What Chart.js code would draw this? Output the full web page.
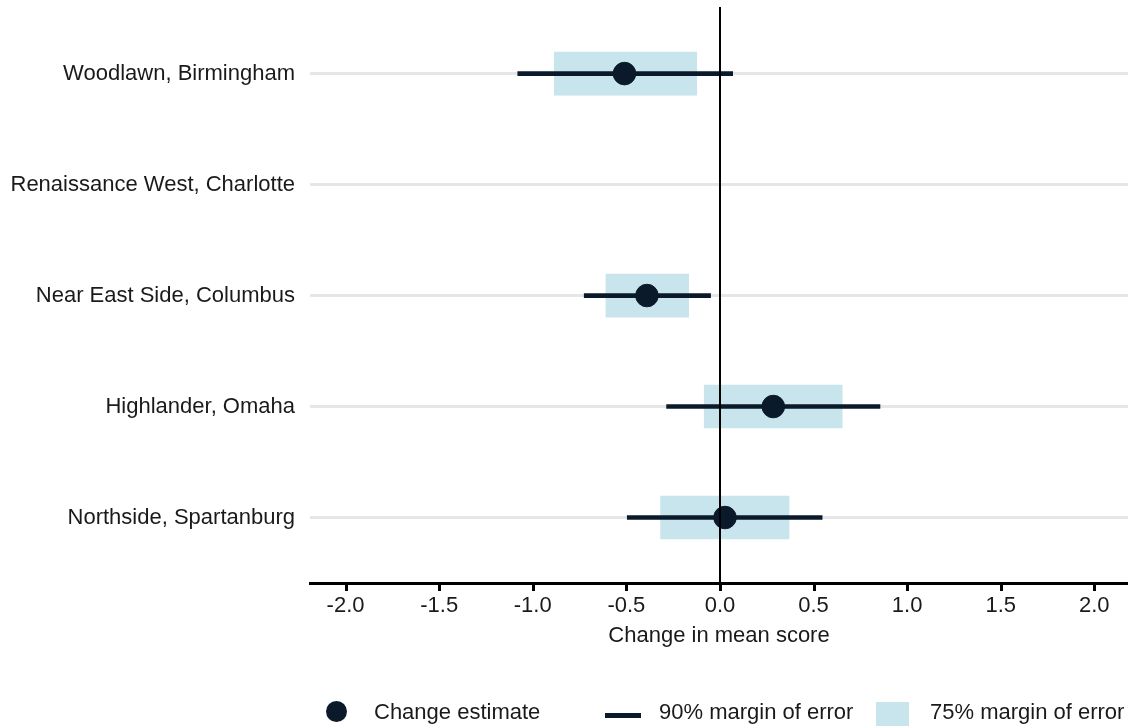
<!DOCTYPE html>
<html>
<head>
<meta charset="utf-8">
<script src="https://cdn.jsdelivr.net/npm/chart.js@4.4.1/dist/chart.umd.min.js"></script>
<style>
  html, body { margin: 0; padding: 0; background: #ffffff; }
  #wrap { position: relative; width: 1128px; height: 728px; }
  #chart { position: absolute; left: 0; top: 0; }
  .lg { position: absolute; font-family: "Liberation Sans", Arial, sans-serif; font-size: 22px; line-height: 24px; color: #1a1a1a; white-space: nowrap; }
  .sw { position: absolute; }
</style>
</head>
<body>
<div id="wrap">
  <canvas id="chart" width="1128" height="728"></canvas>
  <div class="sw" style="left:326px;top:701px;width:21px;height:21px;border-radius:50%;background:#0b1a2b;"></div>
  <div class="lg" style="left:374px;top:700px;">Change estimate</div>
  <div class="sw" style="left:605px;top:713px;width:36px;height:5px;background:#0b1a2b;"></div>
  <div class="lg" style="left:659px;top:700px;">90% margin of error</div>
  <div class="sw" style="left:876px;top:702px;width:33px;height:24px;background:#c8e4ec;"></div>
  <div class="lg" style="left:930px;top:700px;">75% margin of error</div>
</div>
<script>
// Neighbourhoods, top to bottom
const categories = [
  'Woodlawn, Birmingham',
  'Renaissance West, Charlotte',
  'Near East Side, Columbus',
  'Highlander, Omaha',
  'Northside, Spartanburg'
];
// Point estimate of the change in mean score (null = no estimate)
const estimate  = [-0.51, null, -0.39, 0.285, 0.027];
// 90% margin of error bounds
const moe90Low  = [-1.08, null, -0.725, -0.285, -0.495];
const moe90High = [0.068, null, -0.05, 0.855, 0.546];
// 75% margin of error bounds
const moe75Low  = [-0.885, null, -0.609, -0.084, -0.317];
const moe75High = [-0.124, null, -0.167, 0.653, 0.369];
// x axis tick values
const xTicks = [-2.0, -1.5, -1.0, -0.5, 0.0, 0.5, 1.0, 1.5, 2.0];

const NAVY = '#0b1a2b';
const LIGHT = '#c8e4ec';

function ranges(lo, hi) {
  const out = [];
  lo.forEach((v, i) => { if (v !== null && hi[i] !== null) out.push({ x: [v, hi[i]], y: i }); });
  return out;
}
function points(vals) {
  const out = [];
  vals.forEach((v, i) => { if (v !== null) out.push({ x: v, y: i }); });
  return out;
}

// Short black tick marks hanging below the x axis line
const xTickMarks = {
  id: 'xTickMarks',
  afterDraw(chart) {
    const s = chart.scales.x;
    const ctx = chart.ctx;
    const y0 = chart.chartArea.bottom;
    ctx.save();
    ctx.fillStyle = '#000000';
    xTicks.forEach(v => {
      const px = s.getPixelForValue(v);
      ctx.fillRect(Math.round(px) - 1, y0, 3, 8);
    });
    ctx.restore();
  }
};

const FONT = '"Liberation Sans", Arial, sans-serif';

new Chart(document.getElementById('chart'), {
  type: 'bar',
  data: {
    datasets: [
      {
        label: '75% margin of error',
        grouped: false,
        data: ranges(moe75Low, moe75High),
        backgroundColor: LIGHT,
        barThickness: 43,
        borderWidth: 0,
        order: 3
      },
      {
        label: '90% margin of error',
        grouped: false,
        data: ranges(moe90Low, moe90High),
        backgroundColor: NAVY,
        barThickness: 4,
        borderWidth: 0,
        order: 2
      },
      {
        type: 'scatter',
        label: 'Change estimate',
        data: points(estimate),
        backgroundColor: NAVY,
        borderColor: NAVY,
        pointRadius: 11.3,
        pointHoverRadius: 11.3,
        order: 1
      }
    ]
  },
  plugins: [xTickMarks],
  options: {
    indexAxis: 'y',
    responsive: false,
    animation: false,
    events: [],
    layout: { autoPadding: false, padding: { top: 7, right: 0, bottom: 60, left: 0 } },
    plugins: { legend: { display: false }, tooltip: { enabled: false } },
    scales: {
      x: {
        type: 'linear',
        position: 'bottom',
        offset: false,
        min: -2.19,
        max: 2.18,
        afterBuildTicks: s => { s.ticks = xTicks.map(v => ({ value: v })); },
        afterFit: s => { s.height = 85; s.paddingLeft = 0; s.paddingRight = 0; },
        border: { display: true, color: '#000000', width: 3, z: 1 },
        grid: {
          z: 1,
          offset: false,
          drawOnChartArea: true,
          drawTicks: true,
          tickLength: 8,
          tickWidth: 2,
          tickColor: '#000000',
          lineWidth: 2,
          color: c => (c.tick && c.tick.value === 0 ? '#000000' : 'rgba(0,0,0,0)')
        },
        ticks: {
          padding: 2,
          color: '#1a1a1a',
          font: { family: FONT, size: 22 },
          callback: v => Number(v).toFixed(1)
        },
        title: {
          display: true,
          text: 'Change in mean score',
          color: '#1a1a1a',
          font: { family: FONT, size: 22 },
          padding: { top: 4, bottom: 19 }
        }
      },
      y: {
        type: 'linear',
        reverse: true,
        offset: false,
        min: -0.6,
        max: 4.59,
        afterBuildTicks: s => { s.ticks = categories.map((_, i) => ({ value: i })); },
        afterFit: s => { s.width = 310; s.paddingTop = 0; s.paddingBottom = 0; },
        border: { display: false },
        grid: {
          offset: false,
          drawTicks: false,
          color: '#e6e6e6',
          lineWidth: 3
        },
        ticks: {
          padding: 15,
          color: '#1a1a1a',
          font: { family: FONT, size: 22 },
          callback: v => categories[v] ?? ''
        }
      }
    }
  }
});
</script>
</body>
</html>
